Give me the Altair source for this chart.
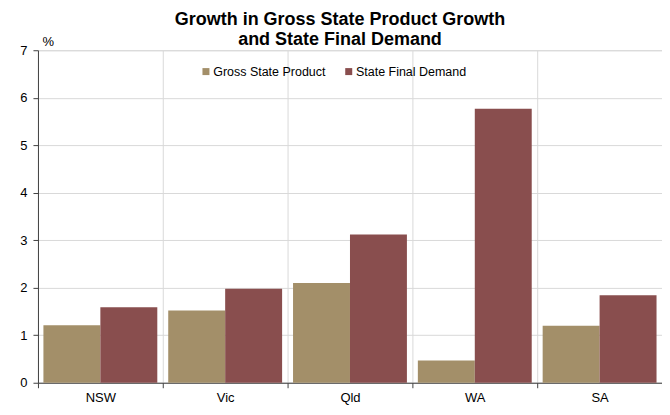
import altair as alt
import pandas as pd

states = ["NSW", "Vic", "Qld", "WA", "SA"]
gsp = [1.21, 1.52, 2.10, 0.47, 1.20]
sfd = [1.59, 1.98, 3.12, 5.77, 1.84]
series = ["Gross State Product", "State Final Demand"]
colors = ["#A38F69", "#894E4E"]
title_lines = ["Growth in Gross State Product Growth", "and State Final Demand"]

rows = []
for s, a, b in zip(states, gsp, sfd):
    rows.append({"state": s, "series": series[0], "value": a})
    rows.append({"state": s, "series": series[1], "value": b})
df = pd.DataFrame(rows)

FONT = "Liberation Sans"

chart = alt.Chart(df).mark_bar().encode(
    x=alt.X("state:N", sort=states, title=None,
            scale=alt.Scale(paddingInner=0, paddingOuter=0),
            axis=alt.Axis(tickBand="extent", grid=True, gridColor="#D9D9D9",
                          domainColor="#404040", tickColor="#404040", tickSize=5,
                          labelAngle=0, labelFont=FONT, labelFontSize=13,
                          labelColor="#000000", labelPadding=4)),
    xOffset=alt.XOffset("series:N", sort=series,
                        scale=alt.Scale(paddingInner=0, paddingOuter=0.096)),
    y=alt.Y("value:Q", scale=alt.Scale(domain=[0, 7]),
            axis=alt.Axis(values=[0, 1, 2, 3, 4, 5, 6, 7], format="d",
                          grid=True, gridColor="#D9D9D9",
                          domainColor="#404040", tickColor="#404040", tickSize=5,
                          labelFont=FONT, labelFontSize=13, labelColor="#000000",
                          labelPadding=6,
                          title="%", titleAngle=0, titleX=4, titleY=-5,
                          titleAlign="left", titleBaseline="alphabetic",
                          titleFont=FONT, titleFontSize=13, titleFontWeight="normal",
                          titleColor="#000000")),
    color=alt.Color("series:N", sort=series,
                    scale=alt.Scale(domain=series, range=colors),
                    legend=alt.Legend(title=None, orient="none", legendX=162, legendY=15,
                                      direction="horizontal", symbolType="square",
                                      symbolSize=49, symbolStrokeWidth=0,
                                      labelFont=FONT, labelFontSize=12.5,
                                      labelColor="#000000", columnPadding=16,
                                      labelOffset=1)),
).properties(
    width=625, height=333,
    title=alt.TitleParams(text=title_lines, font=FONT, fontSize=18, fontWeight="bold",
                          color="#000000", anchor="middle", dx=-10, dy=19, offset=5,
                          lineHeight=20),
    padding={"left": 30, "top": 42, "right": 0, "bottom": 30},
    autosize=alt.AutoSizeParams(type="none"),
).configure_view(stroke="#D9D9D9")

chart.save("out.html", embed_options={"renderer": "svg", "actions": False})
